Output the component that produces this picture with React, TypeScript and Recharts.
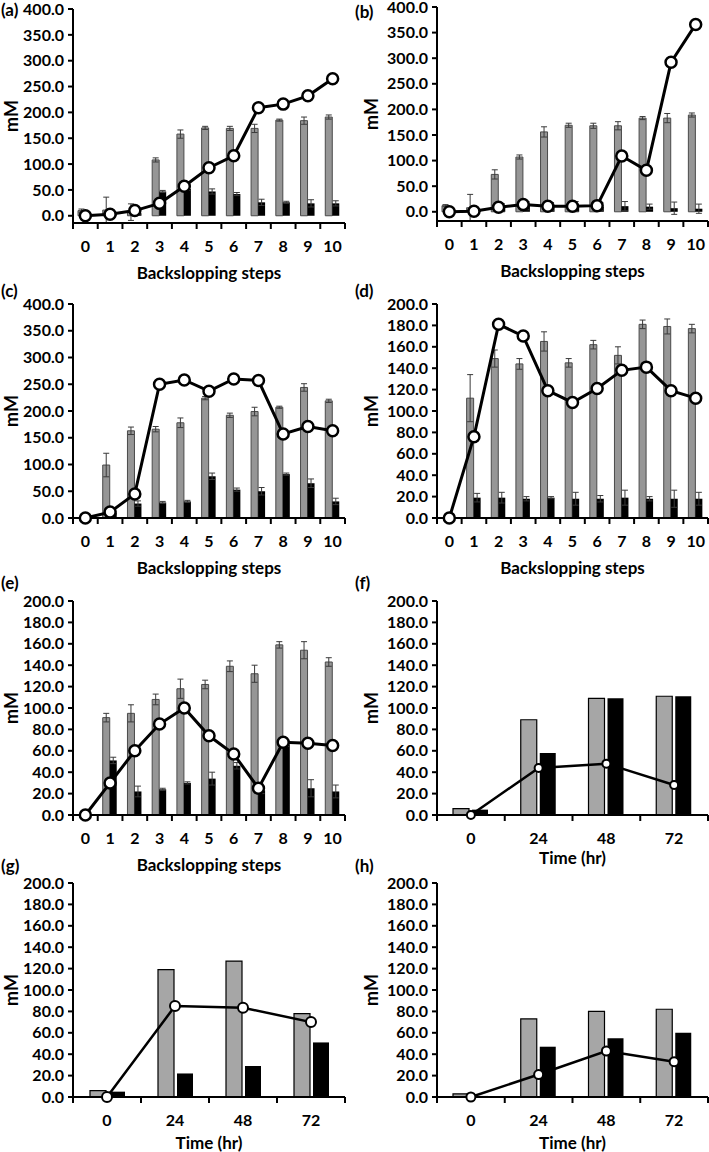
import React from 'react'
import { ComposedChart, Bar, Line, XAxis, YAxis, ErrorBar } from 'recharts'

const FONT = 'Lato, "Open Sans", sans-serif'

// categories
const stepCats = ['0', '1', '2', '3', '4', '5', '6', '7', '8', '9', '10']
const timeCats = ['0', '24', '48', '72']

// y tick labels
const ticks400 = [0, 50, 100, 150, 200, 250, 300, 350, 400]
const ticks200 = [0, 20, 40, 60, 80, 100, 120, 140, 160, 180, 200]

// (a)
const grayA = [10, 11, 7, 108, 158, 170, 169, 169, 185, 184, 191]
const grayErrA = [3, 25, 16, 4, 8, 3, 4, 8, 2, 7, 4]
const blackA = [2, 3, 5, 47, 52, 47, 42, 26, 26, 24, 24]
const blackErrA = [1, 1, 2, 2, 3, 5, 3, 6, 2, 7, 5]
const lineA = [0, 3, 10, 24, 57, 93, 116, 209, 216, 232, 265]

// (b)
const grayB = [12, 8, 73, 107, 156, 169, 168, 168, 183, 183, 189]
const grayErrB = [2, 26, 9, 4, 10, 4, 5, 8, 3, 9, 4]
const blackB = [1, 2, 8, 12, 10, 10, 10, 11, 10, 7, 6]
const blackErrB = [1, 2, 8, 8, 8, 10, 8, 9, 5, 12, 9]
const lineB = [0, 1, 9, 14, 11, 11, 12, 109, 81, 292, 366]

// (c)
const grayC = [0, 99, 163, 166, 178, 224, 192, 199, 207, 244, 219]
const grayErrC = [0, 22, 7, 5, 9, 3, 4, 8, 2, 7, 3]
const blackC = [0, 10, 27, 29, 31, 78, 53, 50, 82, 65, 31]
const blackErrC = [0, 2, 5, 2, 2, 6, 3, 7, 2, 8, 6]
const lineC = [0, 11, 45, 250, 258, 237, 260, 257, 157, 171, 163]

// (d)
const grayD = [0, 112, 149, 144, 165, 145, 162, 152, 181, 179, 177]
const grayErrD = [0, 22, 8, 5, 9, 4, 4, 8, 4, 7, 4]
const blackD = [0, 19, 19, 18, 19, 18, 18, 19, 18, 18, 18]
const blackErrD = [0, 4, 5, 2, 1, 6, 3, 7, 2, 8, 6]
const lineD = [0, 76, 181, 170, 119, 108, 121, 138, 141, 119, 112]

// (e)
const grayE = [0, 91, 95, 108, 118, 122, 139, 132, 159, 154, 143]
const grayErrE = [0, 4, 8, 5, 9, 4, 5, 8, 3, 8, 4]
const blackE = [0, 51, 22, 24, 30, 34, 46, 23, 66, 25, 22]
const blackErrE = [0, 3, 5, 1, 1, 6, 3, 3, 2, 8, 6]
const lineE = [0, 30, 60, 85, 100, 74, 57, 25, 68, 67, 65]

// (f)
const grayF = [6, 89, 109, 111]
const blackF = [5, 58, 109, 111]
const lineF = [0, 44, 48, 28]

// (g)
const grayG = [6, 119, 127, 78]
const blackG = [5, 22, 29, 51]
const lineG = [0, 85, 83.5, 70]

// (h)
const grayH = [3, 73, 80, 82]
const blackH = [1, 47, 55, 60]
const lineH = [0, 21, 43, 33]

const COLS = [
  { left: 0, width: 350, axisW: 73, mmX: 11, right: 5 },
  { left: 354, width: 355, axisW: 83, mmX: 17, right: 1 },
]
const MT = 16
const PLOT_H = 214
const XAX_H = 60

type PanelProps = {
  letter: string
  cats: string[]
  gray: number[]
  black: number[]
  line: number[]
  grayErr?: number[]
  blackErr?: number[]
  ticks: number[]
  col: number
  plotTop: number
  xTitle: string
  titleDy: number
  wide?: boolean
  dotR: number
  letterY: number
}

function Panel(p: PanelProps) {
  const c = COLS[p.col]
  const plotW = c.width - c.axisW - c.right
  const band = plotW / p.cats.length
  const data = p.cats.map((cat, i) => ({
    cat,
    gray: p.gray[i],
    black: p.black[i],
    line: p.line[i],
    grayErr: p.grayErr ? p.grayErr[i] : 0,
    blackErr: p.blackErr ? p.blackErr[i] : 0,
  }))
  const yMax = p.ticks[p.ticks.length - 1]

  // category labels plus Excel-style tick marks between categories
  const XTick = (props: any) => {
    const { x, y, payload, index } = props
    return (
      <g>
        {index === 0 && (
          <line x1={x - band / 2} x2={x - band / 2} y1={y} y2={y + 6} stroke="#000" strokeWidth={2} />
        )}
        <line x1={x + band / 2} x2={x + band / 2} y1={y} y2={y + 6} stroke="#000" strokeWidth={2} />
        <text x={x} y={y + 22} textAnchor="middle" dominantBaseline="central"
          fontFamily={FONT} fontWeight={700} fontSize={16} fill="#000">
          {payload.value}
        </text>
      </g>
    )
  }

  const xLabel = () => (
    <text x={c.axisW + plotW / 2} y={MT + PLOT_H + p.titleDy} textAnchor="middle" dominantBaseline="central"
      fontFamily={FONT} fontWeight={700} fontSize={17} fill="#000">
      {p.xTitle}
    </text>
  )
  const yLabel = () => {
    const cy = MT + PLOT_H / 2
    return (
      <text x={c.mmX} y={cy} transform={`rotate(-90, ${c.mmX}, ${cy})`} textAnchor="middle"
        dominantBaseline="central" fontFamily={FONT} fontWeight={700} fontSize={18} fill="#000">
        mM
      </text>
    )
  }

  const grayStyle = p.wide
    ? { fill: '#a6a6a6', stroke: '#000', strokeWidth: 1.2 }
    : { fill: '#969696', stroke: '#4a4a4a', strokeWidth: 1 }

  return (
    <>
      <div style={{ position: 'absolute', left: c.left + 1, top: p.letterY - 10, fontFamily: FONT,
        fontWeight: 700, fontSize: 17, lineHeight: '20px', color: '#000' }}>
        ({p.letter})
      </div>
      <div style={{ position: 'absolute', left: c.left, top: p.plotTop - MT }}>
        <ComposedChart width={c.width} height={MT + PLOT_H + XAX_H} data={data}
          margin={{ top: MT, right: c.right, left: 0, bottom: 0 }}
          barGap={p.wide ? 3 : 0}>
          <XAxis dataKey="cat" type="category" interval={0} height={XAX_H}
            axisLine={{ stroke: '#000', strokeWidth: 2 }} tickLine={false} tickSize={0} tickMargin={0}
            tick={<XTick />} label={xLabel} />
          <YAxis type="number" domain={[0, yMax]} ticks={p.ticks} width={c.axisW} interval={0}
            tickFormatter={(v: number) => v.toFixed(1)}
            axisLine={{ stroke: '#000', strokeWidth: 2 }} tickLine={{ stroke: '#000', strokeWidth: 2 }}
            tickSize={5} tickMargin={4}
            tick={{ fill: '#000', fontFamily: FONT, fontWeight: 700, fontSize: 16 }}
            label={yLabel} />
          <Bar dataKey="gray" barSize={p.wide ? 16 : 7} {...grayStyle} isAnimationActive={false}>
            {!p.wide && (
              <ErrorBar dataKey="grayErr" width={3} stroke="#3a3a3a" strokeWidth={1} direction="y" />
            )}
          </Bar>
          <Bar dataKey="black" barSize={p.wide ? 16 : 7} fill="#000" isAnimationActive={false}>
            {!p.wide && (
              <ErrorBar dataKey="blackErr" width={3} stroke="#3a3a3a" strokeWidth={1} direction="y" />
            )}
          </Bar>
          <Line dataKey="line" type="linear" stroke="#000" strokeWidth={p.wide ? 2.5 : 3}
            dot={{ r: p.dotR, fill: '#fff', stroke: '#000', strokeWidth: p.wide ? 2 : 2.5 }}
            activeDot={false} isAnimationActive={false} />
        </ComposedChart>
      </div>
    </>
  )
}

export default function App() {
  const steps = 'Backslopping steps'
  const time = 'Time (hr)'
  return (
    <div style={{ position: 'absolute', left: 0, top: 0, width: 709, height: 1152, background: '#fff', overflow: 'hidden' }}>
      <Panel letter="a" cats={stepCats} gray={grayA} black={blackA} line={lineA} grayErr={grayErrA}
        blackErr={blackErrA} ticks={ticks400} col={0} plotTop={9} xTitle={steps} titleDy={49} dotR={5.5} letterY={10} />
      <Panel letter="b" cats={stepCats} gray={grayB} black={blackB} line={lineB} grayErr={grayErrB}
        blackErr={blackErrB} ticks={ticks400} col={1} plotTop={7} xTitle={steps} titleDy={49} dotR={5.5} letterY={12} />
      <Panel letter="c" cats={stepCats} gray={grayC} black={blackC} line={lineC} grayErr={grayErrC}
        blackErr={blackErrC} ticks={ticks400} col={0} plotTop={304} xTitle={steps} titleDy={49} dotR={5.5} letterY={291} />
      <Panel letter="d" cats={stepCats} gray={grayD} black={blackD} line={lineD} grayErr={grayErrD}
        blackErr={blackErrD} ticks={ticks200} col={1} plotTop={304} xTitle={steps} titleDy={49} dotR={5.5} letterY={291} />
      <Panel letter="e" cats={stepCats} gray={grayE} black={blackE} line={lineE} grayErr={grayErrE}
        blackErr={blackErrE} ticks={ticks200} col={0} plotTop={601} xTitle={steps} titleDy={49} dotR={5.5} letterY={583} />
      <Panel letter="f" cats={timeCats} gray={grayF} black={blackF} line={lineF} ticks={ticks200} col={1}
        plotTop={601} xTitle={time} titleDy={42} wide dotR={4} letterY={583} />
      <Panel letter="g" cats={timeCats} gray={grayG} black={blackG} line={lineG} ticks={ticks200} col={0}
        plotTop={883} xTitle={time} titleDy={45} wide dotR={5} letterY={866} />
      <Panel letter="h" cats={timeCats} gray={grayH} black={blackH} line={lineH} ticks={ticks200} col={1}
        plotTop={883} xTitle={time} titleDy={45} wide dotR={4.5} letterY={866} />
    </div>
  )
}
